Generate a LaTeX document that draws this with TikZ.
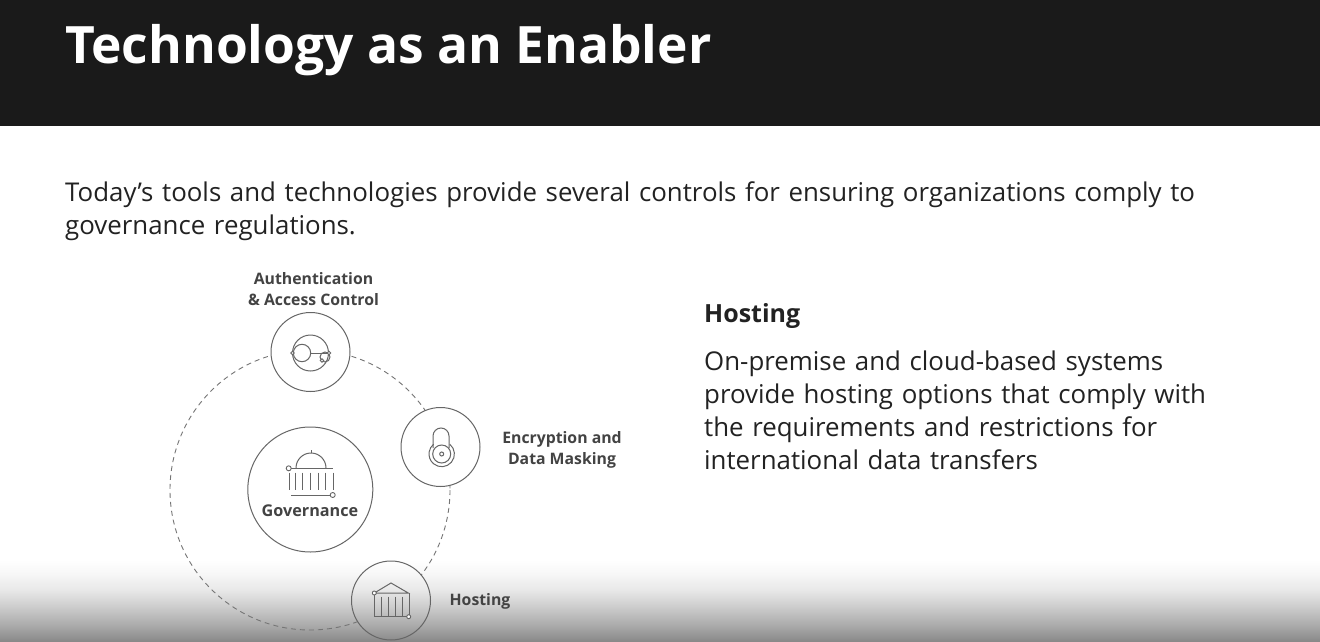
\documentclass[tikz,border=0pt]{standalone}
\usepackage{fontspec}
\setmainfont{Open Sans}
\definecolor{hdr}{HTML}{1A1A1A}
\definecolor{ink}{HTML}{222222}
\definecolor{ring}{HTML}{666666}
\pgfdeclareverticalshading{bottomfade}{100bp}{color(0bp)=(black!47); color(25bp)=(black!47); color(35.35bp)=(black!33); color(46.35bp)=(black!20); color(56.7bp)=(black!9); color(67bp)=(black!3); color(75bp)=(white); color(100bp)=(white)}
\tikzset{
  circ/.style={circle,draw=ring,line width=1pt,minimum size=#1,inner sep=0pt},
  dashring/.style={draw=ring!90!white,line width=0.9pt,dash pattern=on 5pt off 4pt},
  lbl/.style={font=\fontsize{15.8}{21}\selectfont\bfseries\color{ink!85!white},align=center,inner sep=0pt},
  body/.style={font=\fontsize{25.85}{33}\selectfont\color{ink},align=left,inner sep=0pt,anchor=north west},
  icon/.style={draw=ring,line width=1pt,fill=none},
  dot/.style={circle,draw=ring,line width=0.9pt,fill=white,minimum size=5pt,inner sep=0pt}
}
\begin{document}
\begin{tikzpicture}[x=1pt,y=-1pt]
\useasboundingbox (0,0) rectangle (1320,642);
\fill[white] (0,0) rectangle (1320,642);
\fill[hdr] (0,0) rectangle (1320,126);
\shade[shading=bottomfade] (0,560) rectangle (1320,642);
\node[anchor=west,inner sep=0pt,text=white,font=\fontsize{51.5}{60}\selectfont\bfseries] (title) at (65,50) {Technology as an Enabler};
\node[body,text width=1200pt] (intro) at (65,182) {Today’s tools and technologies provide several controls for ensuring organizations comply to\\governance regulations.};
% rings
\coordinate (hub) at (310,490);
\draw[dashring] (hub) circle (140);
\node[circ=79pt,fill=white] (auth) at (310.5,352) {};
\node[circ=79pt,fill=white] (enc) at (440.5,447) {};
\node[circ=125pt,fill=white] (gov) at (310.3,489.5) {};
\begin{scope}
\clip (391,600.5) circle (39.5);
\shade[shading=bottomfade] (340,560) rectangle (440,642);
\end{scope}
\node[circ=79pt] (host) at (391,600.5) {};
% auth icon
\draw[icon] (310.5,353) circle (18);
\draw[icon] (302,353) circle (8.7);
\draw[icon] (310.7,353) -- (329,353);
\draw[icon] (325,357) circle (5);
\node[dot,minimum size=3.5pt] (a1) at (292.5,353) {};
\node[dot,minimum size=3.5pt] (a2) at (329,353) {};
\node[dot,minimum size=3.5pt] (a3) at (322,360.5) {};
% encryption icon
\draw[icon] (433,448) -- (433,436) arc[start angle=180,end angle=360,radius=8] -- (449,448);
\draw[icon] (441.7,454) ++(-50:12.7) arc[start angle=-50,end angle=230,radius=12.7];
\draw[icon] (441.7,454) circle (9);
\draw[icon] (441.7,454) circle (2);
% governance icon
\draw[icon] (296,468) arc[start angle=180,end angle=360,radius=15];
\draw[icon] (311,453) -- (311,449.5);
\draw[icon] (290,468.3) -- (333,468.3);
\draw[icon] (291,495) -- (331,495);
\foreach \x in {289,295.5,302.5,310,318,325.5,333}{\draw[icon] (\x,472.5) -- (\x,490);}
\node[dot,minimum size=5pt] (g1) at (288.7,468.3) {};
\node[dot,minimum size=5pt] (g2) at (332.7,495) {};
\node[lbl,font=\fontsize{16.2}{20}\selectfont\bfseries\color{ink!85!white}] (govt) at (310,511) {Governance};
% hosting icon
\draw[icon] (374.3,593) -- (391,583) -- (408.3,593) -- cycle;
\draw[icon] (374.3,593) -- (374.3,616.7) -- (409,616.7) -- (409,593);
\foreach \x in {381.7,388.5,395.7,402.7}{\draw[icon] (\x,596.7) -- (\x,616.7);}
\node[dot,minimum size=4pt] (h1) at (374.3,593) {};
\node[dot,minimum size=4pt] (h2) at (408.7,616.7) {};
% labels
\node[lbl] (authl) at (313.5,289) {Authentication\\\& Access Control};
\node[lbl] (encl) at (562,449.5) {Encryption and\\Data Masking};
\node[lbl] (hostl) at (480,601.5) {Hosting};
% right text
\node[body,anchor=west,font=\fontsize{25}{30}\selectfont\bfseries\color{ink}] (hh) at (704,316) {Hosting};
\node[body,text width=560pt] (ht) at (704,351) {On-premise and cloud-based systems\\provide hosting options that comply with\\the requirements and restrictions for\\international data transfers};
\end{tikzpicture}
\end{document}
